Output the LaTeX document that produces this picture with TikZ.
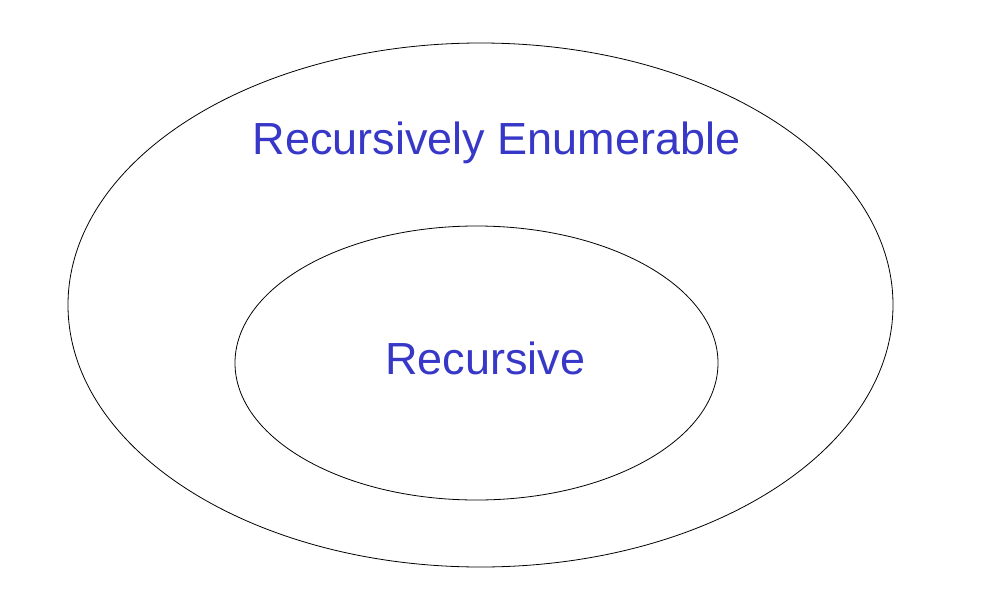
\documentclass[tikz,border=0pt]{standalone}
\usepackage{fontspec}
\setmainfont{Liberation Sans}
\usetikzlibrary{shapes.geometric}
\definecolor{lblue}{RGB}{55,55,200}
\begin{document}
\begin{tikzpicture}[x=1pt,y=-1pt,
  setline/.style={draw=black,line width=0.8pt},
  lbl/.style={text=lblue,font=\fontsize{45}{52}\selectfont,inner sep=0pt}]
\useasboundingbox (0,0) rectangle (983,592);
\fill[white] (0,0) rectangle (983,592);
\node[setline,ellipse,minimum width=825,minimum height=524,inner sep=0pt] (re) at (480.5,305) {};
\node[setline,ellipse,minimum width=483,minimum height=274,inner sep=0pt] (rec) at (476.5,363) {};
\node[lbl] (relbl) at (496.5,143) {Recursively Enumerable};
\node[lbl] (reclbl) at (485.5,358) {Recursive};
\end{tikzpicture}
\end{document}
